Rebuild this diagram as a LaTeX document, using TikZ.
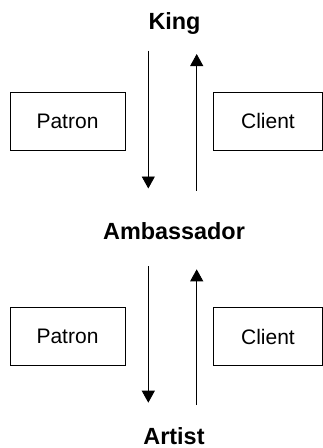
\documentclass[tikz,border=0pt]{standalone}
\usepackage{fontspec}
\setmainfont{Liberation Sans}
\usetikzlibrary{arrows.meta}
\begin{document}
\begin{tikzpicture}[x=1pt,y=-1pt,
  roleboxstyle/.style={draw,line width=0.9pt,minimum width=115pt,minimum height=58pt,inner sep=0pt,font=\fontsize{21}{24}\selectfont},
  levelstyle/.style={anchor=base,inner sep=0pt,font=\fontsize{23.4}{26}\selectfont\bfseries},
  flowstyle/.style={line width=0.9pt,-{Triangle[width=13pt,length=12pt]}}]
\useasboundingbox (0,0) rectangle (323,448);
% levels
\node[levelstyle] (king) at (174.5,29) {King};
\node[levelstyle] (amb) at (174,239) {Ambassador};
\node[levelstyle] (artist) at (174,444.5) {Artist};
% boxes
\node[roleboxstyle] (patron1) at (67.5,121) {Patron};
\node[roleboxstyle,minimum width=109pt] (client1) at (268,121) {Client};
\node[roleboxstyle] (patron2) at (67.5,336.5) {Patron};
\node[roleboxstyle,minimum width=109pt] (client2) at (268,336.5) {Client};
% arrow endpoints
\coordinate (d1s) at (148.3,50.7);
\coordinate (d1e) at (148.3,188.5);
\coordinate (u1s) at (196.7,190.7);
\coordinate (u1e) at (196.7,54);
\coordinate (d2s) at (148.3,266);
\coordinate (d2e) at (148.3,402.7);
\coordinate (u2s) at (196.7,405);
\coordinate (u2e) at (196.7,269.3);
\draw[flowstyle] (d1s) -- (d1e);
\draw[flowstyle] (u1s) -- (u1e);
\draw[flowstyle] (d2s) -- (d2e);
\draw[flowstyle] (u2s) -- (u2e);
\end{tikzpicture}
\end{document}
